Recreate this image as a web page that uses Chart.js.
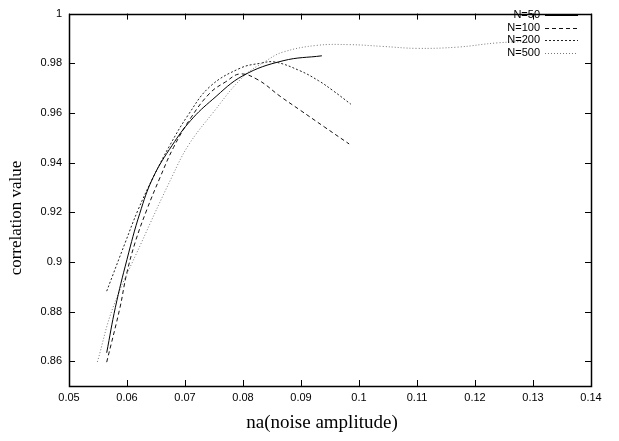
<!DOCTYPE html>
<html>
<head>
<meta charset="utf-8">
<script src="https://cdn.jsdelivr.net/npm/chart.js@4.4.0/dist/chart.umd.min.js"></script>
<style>
  html, body { margin: 0; padding: 0; background: #fff; }
  #wrap { width: 619px; height: 441px; }
</style>
</head>
<body>
<div id="wrap"><canvas id="chart" width="619" height="441"></canvas></div>
<script>
/* =======================
   DATA
======================= */
const seriesNames = ['N=50', 'N=100', 'N=200', 'N=500'];

const x50 = [0.0565, 0.0580, 0.0600, 0.0622, 0.0645, 0.0678, 0.0710, 0.0748, 0.0800, 0.0869, 0.0936];
const y50 = [0.8634, 0.8817, 0.9010, 0.9195, 0.934, 0.947, 0.957, 0.9655, 0.975, 0.981, 0.983];

const x100 = [0.0565, 0.0588, 0.0599, 0.0614, 0.0634, 0.0657, 0.0680, 0.0710, 0.0743, 0.0770, 0.0795, 0.0826, 0.0864, 0.0898, 0.0940, 0.0983];
const y100 = [0.8596, 0.8817, 0.8948, 0.9078, 0.9209, 0.934, 0.946, 0.958, 0.968, 0.9725, 0.9757, 0.9733, 0.9667, 0.9612, 0.9544, 0.9475];

const x200 = [0.0565, 0.0597, 0.0619, 0.0645, 0.0674, 0.0705, 0.0743, 0.0795, 0.0830, 0.0855, 0.0898, 0.0930, 0.0955, 0.0986];
const y200 = [0.8882, 0.9078, 0.9209, 0.934, 0.947, 0.959, 0.9706, 0.978, 0.980, 0.9805, 0.977, 0.973, 0.969, 0.9635];

const x500 = [0.0549, 0.0576, 0.0625, 0.0677, 0.0706, 0.0748, 0.0800, 0.0840, 0.0869, 0.0927, 0.0984, 0.1040, 0.1100, 0.1170, 0.1238, 0.1310];
const y500 = [0.8597, 0.8817, 0.9078, 0.934, 0.947, 0.960, 0.9745, 0.981, 0.9845, 0.9872, 0.9875, 0.9868, 0.986, 0.9865, 0.9882, 0.989];

const xTicks = [0.05, 0.06, 0.07, 0.08, 0.09, 0.1, 0.11, 0.12, 0.13, 0.14];
const xTickLabels = ['0.05', '0.06', '0.07', '0.08', '0.09', '0.1', '0.11', '0.12', '0.13', '0.14'];
const yTicks = [0.86, 0.88, 0.9, 0.92, 0.94, 0.96, 0.98, 1];
const yTickLabels = ['0.86', '0.88', '0.9', '0.92', '0.94', '0.96', '0.98', '1'];

const xTitle = 'na(noise amplitude)';
const yTitle = 'correlation value';

/* =======================
   HELPERS
======================= */
function pts(xs, ys) {
  return xs.map((x, i) => ({ x: x, y: ys[i] }));
}

function serie(label, xs, ys, color, dash) {
  return {
    label: label,
    data: pts(xs, ys),
    showLine: true,
    borderColor: color,
    borderWidth: 1,
    borderDash: dash,
    pointRadius: 0,
    tension: 0.4,
    fill: false
  };
}

// gnuplot style frame: box + inward ticks on all four sides, key, axis titles
const gnuplotFrame = {
  id: 'gnuplotFrame',
  afterDatasetsDraw(chart) {
    const ctx = chart.ctx;
    const a = chart.chartArea;
    const sx = chart.scales.x, sy = chart.scales.y;
    const tl = 6;
    ctx.save();
    ctx.strokeStyle = '#000';
    ctx.lineWidth = 1;
    ctx.setLineDash([]);
    ctx.beginPath();
    xTicks.forEach(v => {
      const px = Math.round(sx.getPixelForValue(v)) + 0.5;
      ctx.moveTo(px, a.bottom); ctx.lineTo(px, a.bottom - tl);
      ctx.moveTo(px, a.top); ctx.lineTo(px, a.top + tl);
    });
    yTicks.forEach(v => {
      const py = Math.round(sy.getPixelForValue(v)) + 0.5;
      ctx.moveTo(a.left, py); ctx.lineTo(a.left + tl, py);
      ctx.moveTo(a.right, py); ctx.lineTo(a.right - tl, py);
    });
    ctx.stroke();
    ctx.lineWidth = 1.5;
    ctx.strokeRect(Math.round(a.left) + 0.5, Math.round(a.top) + 0.5,
                   Math.round(a.right - a.left), Math.round(a.bottom - a.top));

    // key
    ctx.font = '11px "Liberation Sans", Arial, sans-serif';
    ctx.fillStyle = '#000';
    ctx.textAlign = 'right';
    ctx.textBaseline = 'middle';
    chart.data.datasets.forEach((ds, i) => {
      const y = 15 + i * 12.7;
      ctx.fillText(ds.label, 540, y);
      ctx.strokeStyle = ds.borderColor;
      ctx.lineWidth = 1;
      ctx.setLineDash(ds.borderDash || []);
      ctx.beginPath();
      ctx.moveTo(545, Math.round(y) + 0.5);
      ctx.lineTo(578, Math.round(y) + 0.5);
      ctx.stroke();
    });
    ctx.setLineDash([]);

    // axis titles
    ctx.font = '19px "Liberation Serif", "Times New Roman", serif';
    ctx.textAlign = 'center';
    ctx.fillText(xTitle, 322, 423);
    ctx.translate(17, 218);
    ctx.rotate(-Math.PI / 2);
    ctx.font = '17px "Liberation Serif", "Times New Roman", serif';
    ctx.fillText(yTitle, 0, 0);
    ctx.restore();
  }
};

/* =======================
   CHART
======================= */
const tickFont = { family: '"Liberation Sans", Arial, sans-serif', size: 11 };

new Chart(document.getElementById('chart'), {
  type: 'scatter',
  data: {
    datasets: [
      serie(seriesNames[0], x50, y50, '#000', []),
      serie(seriesNames[1], x100, y100, '#111', [4, 3]),
      serie(seriesNames[2], x200, y200, '#222', [2, 2]),
      serie(seriesNames[3], x500, y500, '#777', [1, 2])
    ]
  },
  options: {
    responsive: false,
    animation: false,
    layout: { padding: { top: 5, right: 28, left: 0, bottom: 0 } },
    plugins: { legend: { display: false }, tooltip: { enabled: false } },
    scales: {
      x: {
        type: 'linear',
        min: 0.05, max: 0.14,
        afterBuildTicks: s => { s.ticks = xTicks.map(v => ({ value: v })); },
        afterFit: s => { s.height = 55; },
        grid: { display: false, drawTicks: false },
        border: { display: false },
        ticks: {
          color: '#000', font: tickFont, padding: 5, maxRotation: 0, autoSkip: false,
          callback: (v) => xTickLabels[xTicks.indexOf(v)]
        }
      },
      y: {
        type: 'linear',
        min: 0.85, max: 1,
        afterBuildTicks: s => { s.ticks = yTicks.map(v => ({ value: v })); },
        afterFit: s => { s.width = 69; },
        grid: { display: false, drawTicks: false },
        border: { display: false },
        ticks: {
          color: '#000', font: tickFont, padding: 7, autoSkip: false,
          callback: (v) => yTickLabels[yTicks.indexOf(v)]
        }
      }
    }
  },
  plugins: [gnuplotFrame]
});
</script>
</body>
</html>
